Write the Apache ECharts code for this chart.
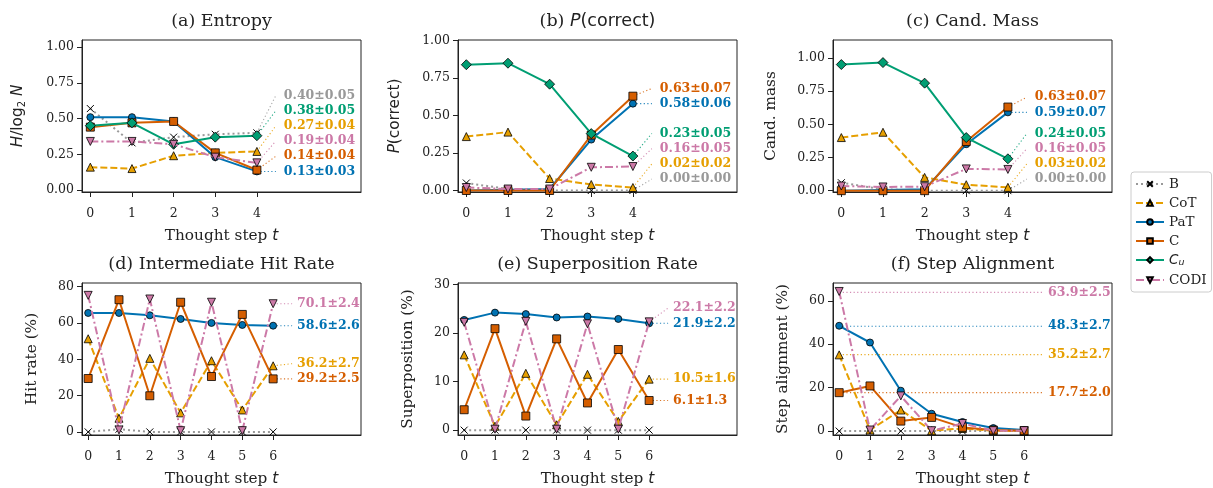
<!DOCTYPE html>
<html>
<head>
<meta charset="utf-8">
<script src="https://cdn.jsdelivr.net/npm/echarts@6/dist/echarts.min.js"></script>
<style>
  html, body { margin: 0; padding: 0; background: #fff; }
  #chart { width: 1213px; height: 488px; }
</style>
</head>
<body>
<div id="chart"></div>
<script>
// method order used by every value table below
const methods = ['B', 'CoT', 'PaT', 'C', 'C_u', 'CODI'];
const stepsShort = [0, 1, 2, 3, 4];
const stepsLong = [0, 1, 2, 3, 4, 5, 6];

// (a) entropy H/log2 N
const entropyVals = [
  [0.57, 0.33, 0.37, 0.39, 0.40],
  [0.16, 0.15, 0.24, 0.26, 0.27],
  [0.51, 0.51, 0.48, 0.23, 0.13],
  [0.44, 0.47, 0.48, 0.26, 0.14],
  [0.45, 0.47, 0.32, 0.37, 0.38],
  [0.34, 0.34, 0.32, 0.23, 0.19]
];
const entropyNotes = ['0.40±0.05', '0.27±0.04', '0.13±0.03', '0.14±0.04', '0.38±0.05', '0.19±0.04'];

// (b) P(correct)
const pcorrVals = [
  [0.05, 0.01, 0.00, 0.00, 0.00],
  [0.36, 0.39, 0.08, 0.04, 0.02],
  [0.00, 0.005, 0.01, 0.34, 0.58],
  [0.00, 0.00, 0.00, 0.37, 0.63],
  [0.84, 0.85, 0.71, 0.38, 0.23],
  [0.02, 0.01, 0.01, 0.155, 0.16]
];
const pcorrNotes = ['0.00±0.00', '0.02±0.02', '0.58±0.06', '0.63±0.07', '0.23±0.05', '0.16±0.05'];

// (c) candidate mass
const massVals = [
  [0.06, 0.01, 0.00, 0.00, 0.00],
  [0.40, 0.44, 0.10, 0.045, 0.025],
  [0.00, 0.005, 0.01, 0.35, 0.59],
  [0.00, 0.00, 0.00, 0.37, 0.63],
  [0.95, 0.965, 0.81, 0.40, 0.24],
  [0.035, 0.028, 0.03, 0.164, 0.16]
];
const massNotes = ['0.00±0.00', '0.03±0.02', '0.59±0.07', '0.63±0.07', '0.24±0.05', '0.16±0.05'];

// (d) intermediate hit rate (%)
const hitVals = [
  [0, 1.5, 0, 0, 0, 0, 0],
  [51.3, 7.5, 40.5, 10.5, 39.2, 12.1, 36.4],
  [65.5, 65.5, 64.2, 62.2, 60.0, 58.9, 58.5],
  [29.4, 72.8, 19.9, 71.4, 30.5, 64.7, 29.2],
  null,
  [75.2, 1.1, 73.2, 0.7, 71.4, 0.7, 70.6]
];
const hitNotes = [null, '36.2±2.7', '58.6±2.6', '29.2±2.5', null, '70.1±2.4'];

// (e) superposition rate (%)
const superVals = [
  [0, 0, 0, 0, 0, 0, 0],
  [15.5, 0.8, 11.7, 1.1, 11.5, 1.8, 10.5],
  [22.7, 24.2, 23.9, 23.2, 23.4, 22.9, 22.0],
  [4.2, 20.9, 2.9, 18.8, 5.6, 16.6, 6.1],
  null,
  [22.2, 0.2, 22.4, 0.2, 21.9, 0.2, 22.3]
];
const superNotes = [null, '10.5±1.6', '21.9±2.2', '6.1±1.3', null, '22.1±2.2'];

// (f) step alignment (%)
const alignVals = [
  [0, 0, 0, 0, 0, 0, 0],
  [35.1, 0.5, 9.7, 0.2, 1.2, 0.2, 0.0],
  [48.5, 40.8, 18.6, 8.0, 4.2, 1.4, 0.5],
  [17.7, 20.8, 4.6, 6.3, 1.7, 0.5, 0.2],
  null,
  [64.3, 0.5, 16.2, 0.2, 3.5, 0.2, 0.2]
];
const alignNotes = [null, '35.2±2.7', '48.3±2.7', '17.7±2.0', null, '63.9±2.5'];

const serif = 'DejaVu Serif';
const sans = 'DejaVu Sans';
const colors = ['#999999', '#E69F00', '#0072B2', '#D55E00', '#009E73', '#CC79A7'];
const lineTypes = [[2, 3], [7, 3], 'solid', 'solid', 'solid', [8, 3, 2, 3]];
const symbols = [
  'path://M0,0L10,10M0,10L10,0',
  'triangle',
  'circle',
  'rect',
  'diamond',
  'path://M0,0L10,0L5,9Z'
];
const symbolSizes = [7, 8, 7, 8, 10, 8];
const fills = ['#000', '#E69F00', '#0072B2', '#D55E00', '#009E73', '#CC79A7'];

const nameSize = 15.3;
const mathRich = {
  i: { fontFamily: sans, fontStyle: 'italic', fontSize: nameSize, color: '#222' },
  s: { fontFamily: sans, fontSize: 10, color: '#222', padding: [8, 0, 0, 0] },
  r: { fontFamily: sans, fontSize: nameSize, color: '#222' }
};

const panels = [
  { title: '(a) Entropy', yName: '{i|H}{r|/log}{s|2}{i| N}', yGap: 55, vals: entropyVals, notes: entropyNotes, steps: stepsShort,
    ymin: -0.014, ymax: 1.05, yTicks: [0, 0.25, 0.5, 0.75, 1.0], xmax: 6.5, left: 82, top: 40, dist: 8, fmt: v => v.toFixed(2) },
  { title: '(b) {i|P}{r|(correct)}', yName: '{i|P}{r|(correct)}', yGap: 55, vals: pcorrVals, notes: pcorrNotes, steps: stepsShort,
    ymin: -0.01, ymax: 1.005, yTicks: [0, 0.25, 0.5, 0.75, 1.0], xmax: 6.5, left: 458, top: 40, dist: 8, fmt: v => v.toFixed(2) },
  { title: '(c) Cand. Mass', yName: 'Cand. mass', yGap: 54, vals: massVals, notes: massNotes, steps: stepsShort,
    ymin: -0.01, ymax: 1.135, yTicks: [0, 0.25, 0.5, 0.75, 1.0], xmax: 6.5, left: 833, top: 40, dist: 8, fmt: v => v.toFixed(2) },
  { title: '(d) Intermediate Hit Rate', yName: 'Hit rate (%)', yGap: 42, vals: hitVals, notes: hitNotes, steps: stepsLong,
    ymin: -1.7, ymax: 82, yTicks: [0, 20, 40, 60, 80], xmax: 8.85, left: 82, top: 283, dist: 5, fmt: v => String(v) },
  { title: '(e) Superposition Rate', yName: 'Superposition (%)', yGap: 42, vals: superVals, notes: superNotes, steps: stepsLong,
    ymin: -1.0, ymax: 30.3, yTicks: [0, 10, 20, 30], xmax: 8.85, left: 458, top: 283, dist: 5, fmt: v => String(v) },
  { title: '(f) Step Alignment', yName: 'Step alignment (%)', yGap: 42, vals: alignVals, notes: alignNotes, steps: stepsLong,
    ymin: -1.8, ymax: 68.2, yTicks: [0, 20, 40, 60], xmax: 8.85, left: 833, top: 283, dist: 5, fmt: v => String(v), flat: true }
];

const W = 279, H = 152, XMIN = -0.2;

const grids = [], xAxes = [], yAxes = [], titles = [], series = [];

panels.forEach((p, k) => {
  grids.push({ left: p.left, top: p.top, width: W, height: H, show: true, borderColor: '#222', borderWidth: 1, containLabel: false });
  titles.push({
    text: p.title, left: p.left + W / 2, top: p.top - 28, textAlign: 'center', padding: 0,
    textStyle: { fontFamily: serif, fontSize: 17.5, fontWeight: 'normal', color: '#222',
      rich: { i: { fontFamily: sans, fontStyle: 'italic', fontSize: 17.5, color: '#222' }, r: { fontFamily: sans, fontSize: 17.5, color: '#222' } } }
  });
  xAxes.push({
    type: 'value', gridIndex: k, min: XMIN, max: p.xmax,
    name: 'Thought step {i|t}', nameLocation: 'middle', nameGap: 37, nameMoveOverlap: false,
    nameTextStyle: { fontFamily: serif, fontSize: nameSize, color: '#222', rich: { i: { fontFamily: sans, fontStyle: 'italic', fontSize: nameSize, color: '#222' } } },
    axisLine: { onZero: false, lineStyle: { color: '#222', width: 1 } },
    axisTick: { show: true, customValues: p.steps, length: 5, lineStyle: { color: '#222' } },
    axisLabel: { customValues: p.steps, fontFamily: serif, fontSize: 12.5, color: '#222', margin: 15 },
    splitLine: { show: false }
  });
  yAxes.push({
    type: 'value', gridIndex: k, min: p.ymin, max: p.ymax,
    name: p.yName, nameLocation: 'middle', nameGap: p.yGap, nameRotate: 90, nameMoveOverlap: false,
    nameTextStyle: { fontFamily: serif, fontSize: nameSize, color: '#222', rich: mathRich },
    axisLine: { show: true, onZero: false, lineStyle: { color: '#222', width: 1 } },
    axisTick: { show: true, customValues: p.yTicks, length: 5, lineStyle: { color: '#222' } },
    axisLabel: { customValues: p.yTicks, formatter: p.fmt, fontFamily: serif, fontSize: 12.5, color: '#222', margin: 8 },
    splitLine: { show: false }
  });

  // data lines
  p.vals.forEach((row, m) => {
    if (!row) return;
    series.push({
      name: methods[m], type: 'line', xAxisIndex: k, yAxisIndex: k,
      data: row.map((v, t) => [p.steps[t], v]),
      symbol: symbols[m], symbolSize: symbolSizes[m], showSymbol: true,
      lineStyle: { color: colors[m], width: 2, type: lineTypes[m] },
      itemStyle: { color: fills[m], borderColor: '#000', borderWidth: m === 0 ? 1 : 0.8 },
      emphasis: { disabled: true }, z: 3 + m
    });
  });

  // annotations: spread labels to the right of the last step
  const range = p.ymax - p.ymin;
  const last = p.steps[p.steps.length - 1];
  const off = 0.068 * (p.xmax - XMIN);
  const items = [];
  p.vals.forEach((row, m) => {
    if (!row || !p.notes[m]) return;
    const anchor = p.flat ? parseFloat(p.notes[m]) : row[row.length - 1];
    items.push({ m, anchor });
  });
  items.sort((a, b) => a.anchor - b.anchor);
  let prev = -Infinity;
  items.forEach(it => {
    let pos = p.flat ? it.anchor : Math.max(it.anchor, prev + 0.1 * range, p.ymin + 0.085 * range);
    prev = pos;
    const x0 = p.flat ? 0 : last;
    series.push({
      name: 'note-' + k + '-' + it.m, type: 'line', xAxisIndex: k, yAxisIndex: k,
      data: [[x0, it.anchor], [last + off, pos]],
      symbol: 'none', silent: true, z: 1,
      lineStyle: { color: colors[it.m], width: 1.1, type: [1.2, 2.4], opacity: 0.85 },
      endLabel: { show: true, formatter: p.notes[it.m], distance: p.dist, color: colors[it.m],
        fontFamily: serif, fontWeight: 'bold', fontSize: 12.5 }
    });
  });
});

const chart = echarts.init(document.getElementById('chart'), null, { renderer: 'canvas' });
chart.setOption({
  animation: false,
  backgroundColor: '#fff',
  title: titles,
  grid: grids,
  xAxis: xAxes,
  yAxis: yAxes,
  legend: {
    data: methods, orient: 'vertical', left: 1131, top: 172,
    padding: [5, 5, 5, 4], itemGap: 5, itemWidth: 28, itemHeight: 7,
    borderColor: '#ccc', borderWidth: 1, borderRadius: 3, backgroundColor: '#fff',
    textStyle: { fontFamily: serif, fontSize: 13.5, color: '#222',
      rich: { i: { fontFamily: sans, fontStyle: 'italic', fontSize: 13.5, color: '#222' },
              s: { fontFamily: sans, fontStyle: 'italic', fontSize: 9.5, color: '#222', padding: [6, 0, 0, 0] } } },
    formatter: n => n === 'C_u' ? '{i|C}{s|u}' : n
  },
  series: series
});
</script>
</body>
</html>
